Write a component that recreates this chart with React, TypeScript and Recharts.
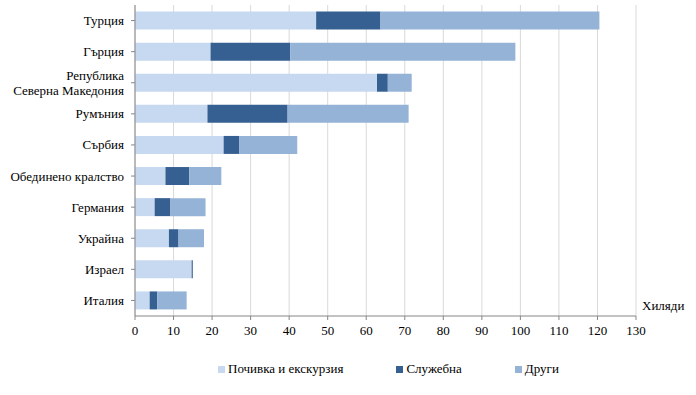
import { BarChart, Bar, XAxis, YAxis, CartesianGrid } from "recharts";

const countries = [
  "Турция",
  "Гърция",
  "Република\nСеверна Македония",
  "Румъния",
  "Сърбия",
  "Обединено кралство",
  "Германия",
  "Украйна",
  "Израел",
  "Италия",
];
const leisure = [47.0, 19.6, 62.8, 18.8, 23.0, 7.9, 5.1, 8.8, 14.7, 3.8];
const business = [16.7, 20.7, 2.8, 20.8, 4.1, 6.2, 4.1, 2.5, 0.3, 2.0];
const other = [56.8, 58.4, 6.2, 31.4, 15.0, 8.3, 9.1, 6.6, 0, 7.6];
const xTicks = [0, 10, 20, 30, 40, 50, 60, 70, 80, 90, 100, 110, 120, 130];

const series = [
  { key: "leisure", name: "Почивка и екскурзия", color: "#c6d9f1" },
  { key: "business", name: "Служебна", color: "#376092" },
  { key: "other", name: "Други", color: "#95b3d7" },
];

const data = countries.map((country, i) => ({
  country,
  leisure: leisure[i],
  business: business[i],
  other: other[i],
}));

const FONT = "'Liberation Serif', 'Times New Roman', serif";

const CountryTick = ({ x, y, payload }: any) => {
  const lines = String(payload.value).split("\n");
  const lh = 15;
  const start = -((lines.length - 1) * lh) / 2;
  return (
    <text x={x} y={y} textAnchor="end" fill="#000" fontSize={13} fontFamily={FONT}>
      {lines.map((l, i) => (
        <tspan key={i} x={x} dy={i === 0 ? start + 4.5 : lh}>
          {l}
        </tspan>
      ))}
    </text>
  );
};

export default function App() {
  return (
    <div style={{ position: "relative", width: 696, height: 395, fontFamily: FONT, background: "#fff" }}>
      <style>{`body{margin:0}`}</style>
      <BarChart
        width={696}
        height={395}
        data={data}
        layout="vertical"
        margin={{ top: 5, right: 60, bottom: 49, left: 0 }}
        barCategoryGap="21%"
      >
        <CartesianGrid horizontal={false} stroke="#d9d9d9" />
        <XAxis
          type="number"
          domain={[0, 130]}
          ticks={xTicks}
          height={30}
          stroke="#868686"
          tickSize={4}
          tickMargin={6}
          tick={{ fill: "#000", fontSize: 13, fontFamily: FONT }}
        />
        <YAxis
          type="category"
          dataKey="country"
          width={135}
          stroke="#868686"
          tickSize={4}
          tickMargin={7}
          interval={0}
          tick={<CountryTick />}
        />
        {series.map((s) => (
          <Bar key={s.key} dataKey={s.key} name={s.name} stackId="a" fill={s.color} isAnimationActive={false} />
        ))}
      </BarChart>
      <div style={{ position: "absolute", left: 642, top: 298, fontSize: 13, color: "#000" }}>Хиляди</div>
      <div
        style={{
          position: "absolute",
          left: 218,
          top: 361,
          display: "flex",
          alignItems: "center",
          gap: 53,
          fontSize: 13,
          color: "#000",
          whiteSpace: "nowrap",
        }}
      >
        {series.map((s) => (
          <div key={s.key} style={{ display: "flex", alignItems: "center", gap: 3 }}>
            <span style={{ width: 7, height: 7, background: s.color, display: "inline-block" }} />
            <span>{s.name}</span>
          </div>
        ))}
      </div>
    </div>
  );
}
